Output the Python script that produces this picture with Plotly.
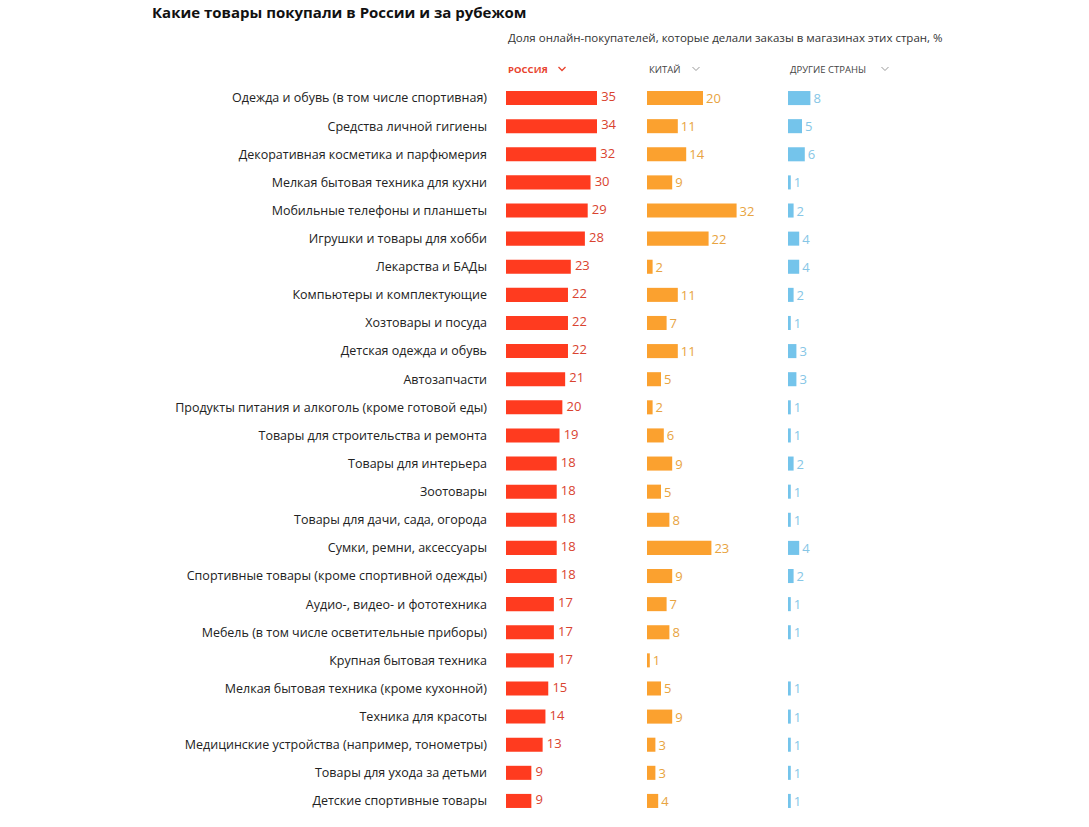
import plotly.graph_objects as go

categories = [
    "Одежда и обувь (в том числе спортивная)",
    "Средства личной гигиены",
    "Декоративная косметика и парфюмерия",
    "Мелкая бытовая техника для кухни",
    "Мобильные телефоны и планшеты",
    "Игрушки и товары для хобби",
    "Лекарства и БАДы",
    "Компьютеры и комплектующие",
    "Хозтовары и посуда",
    "Детская одежда и обувь",
    "Автозапчасти",
    "Продукты питания и алкоголь (кроме готовой еды)",
    "Товары для строительства и ремонта",
    "Товары для интерьера",
    "Зоотовары",
    "Товары для дачи, сада, огорода",
    "Сумки, ремни, аксессуары",
    "Спортивные товары (кроме спортивной одежды)",
    "Аудио-, видео- и фототехника",
    "Мебель (в том числе осветительные приборы)",
    "Крупная бытовая техника",
    "Мелкая бытовая техника (кроме кухонной)",
    "Техника для красоты",
    "Медицинские устройства (например, тонометры)",
    "Товары для ухода за детьми",
    "Детские спортивные товары",
]
russia = [35, 34, 32, 30, 29, 28, 23, 22, 22, 22, 21, 20, 19, 18, 18, 18, 18, 18, 17, 17, 17, 15, 14, 13, 9, 9]
china = [20, 11, 14, 9, 32, 22, 2, 11, 7, 11, 5, 2, 6, 9, 5, 8, 23, 9, 7, 8, 1, 5, 9, 3, 3, 4]
other = [8, 5, 6, 1, 2, 4, 4, 2, 1, 3, 3, 1, 1, 2, 1, 1, 4, 2, 1, 1, None, 1, 1, 1, 1, 1]

title = "Какие товары покупали в России и за рубежом"
subtitle = "Доля онлайн-покупателей, которые делали заказы в магазинах этих стран, %"
headers = ["РОССИЯ", "КИТАЙ", "ДРУГИЕ СТРАНЫ"]

W, H = 1089, 827
FONT = "Open Sans"

def fx(px):
    return px / W

def fy(py):
    return 1 - py / H

# column layout (pixels); each column is a fixed-width box, longer bars are cut at its edge
col_left = [506, 647, 788]
col_width = 91
col_range = [32.3, 32.5, 32.5]
bar_colors = ["#ff3b1f", "#fba12f", "#74c4eb"]
text_colors = ["#d9432f", "#e8a441", "#86c6e6"]
header_colors = ["#e8432d", "#444444", "#444444"]

row_top = 84.0
row_bottom = 815.0
n = len(categories)

fig = go.Figure()
series = [russia, china, other]
for i, vals in enumerate(series):
    ax = "" if i == 0 else str(i + 1)
    fig.add_trace(go.Bar(
        x=vals, y=categories, orientation="h",
        xaxis="x" + ax, yaxis="y",
        marker=dict(color=bar_colors[i], line=dict(width=0)),
        text=[("" if v is None else str(v)) for v in vals] if i > 0 else None,
        textposition="outside", cliponaxis=False, constraintext="none",
        textfont=dict(family=FONT, size=13, color=text_colors[i]),
        hoverinfo="skip", showlegend=False,
    ))

# Russia value labels sit at the visible end of the (possibly cut) bar
fig.add_trace(go.Scatter(
    x=[min(v, col_range[0]) for v in russia], y=categories,
    xaxis="x", yaxis="y", mode="markers+text",
    marker=dict(size=5, color="rgba(0,0,0,0)"),
    text=[str(v) for v in russia], textposition="middle right",
    textfont=dict(family=FONT, size=13, color=text_colors[0]),
    cliponaxis=False, hoverinfo="skip", showlegend=False,
))

layout = dict(
    width=W, height=H,
    margin=dict(l=0, r=0, t=0, b=0),
    paper_bgcolor="white", plot_bgcolor="white",
    bargap=0.5,
    font=dict(family=FONT, color="#222222"),
    yaxis=dict(
        domain=[fy(row_bottom), fy(row_top)],
        range=[n - 0.5, -0.5], autorange=False,
        showgrid=False, zeroline=False, showline=False,
        ticks="", tickfont=dict(family=FONT, size=12.5, color="#222222"),
        ticklabelstandoff=18, anchor="x", fixedrange=True,
    ),
)
for i in range(3):
    key = "xaxis" if i == 0 else "xaxis%d" % (i + 1)
    layout[key] = dict(
        domain=[fx(col_left[i]), fx(col_left[i] + col_width)],
        range=[0, col_range[i]], showgrid=False, zeroline=False,
        showline=False, showticklabels=False, ticks="", anchor="y",
        fixedrange=True,
    )
fig.update_layout(**layout)

annotations = [
    dict(text="<b>" + title + "</b>", x=fx(150), y=1, xref="paper", yref="paper",
         xanchor="left", yanchor="top", showarrow=False,
         font=dict(family=FONT, size=15, color="#111111")),
    dict(text=subtitle, x=fx(506), y=fy(38), xref="paper", yref="paper",
         xanchor="left", yanchor="middle", showarrow=False,
         font=dict(family=FONT, size=11.5, color="#333333")),
]
header_widths = [43, 36, 84]
shapes = []
for i, h in enumerate(headers):
    txt = "<b>" + h + "</b>" if i == 0 else h
    annotations.append(dict(text=txt, x=fx(col_left[i]), y=fy(69), xref="paper", yref="paper",
                            xanchor="left", yanchor="middle", showarrow=False,
                            font=dict(family=FONT, size=9.5, color=header_colors[i])))
    cx = col_left[i] + header_widths[i] + 13
    chev_col = "#e8432d" if i == 0 else "#999999"
    shapes.append(dict(type="path", xref="paper", yref="paper",
                       path="M %f %f L %f %f L %f %f" % (fx(cx - 3.5), fy(67), fx(cx), fy(70.5), fx(cx + 3.5), fy(67)),
                       line=dict(color=chev_col, width=1.3 if i == 0 else 1)))
fig.update_layout(annotations=annotations, shapes=shapes)

fig.write_html("out.html", config={"displayModeBar": False},
               post_script="document.body.style.margin='0';")
